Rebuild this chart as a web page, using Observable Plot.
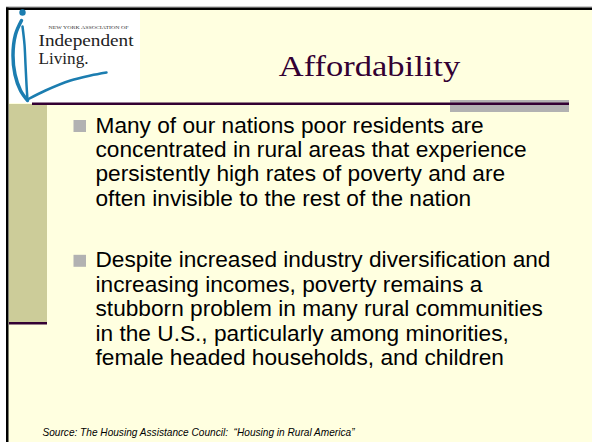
<!DOCTYPE html>
<html>
<head>
<meta charset="utf-8">
<script src="https://cdn.jsdelivr.net/npm/d3@7"></script>
<script src="https://cdn.jsdelivr.net/npm/@observablehq/plot@0.6"></script>
<style>
  html, body { margin: 0; padding: 0; background: #ffffff; }
  #chart svg { display: block; }
</style>
</head>
<body>
<div id="chart"></div>
<script>
// ---- Content ----
const titleText = "Affordability";
const bullet1 = [
  "Many of our nations poor residents are",
  "concentrated in rural areas that experience",
  "persistently high rates of poverty and are",
  "often invisible to the rest of the nation"
];
const bullet2 = [
  "Despite increased industry diversification and",
  "increasing incomes, poverty remains a",
  "stubborn problem in many rural communities",
  "in the U.S., particularly among minorities,",
  "female headed households, and children"
];
const sourceText = "Source: The Housing Assistance Council:  \u201cHousing in Rural America\u201d";
const logoSmall = "NEW YORK ASSOCIATION OF";
const logoWords = ["Independent", "Living."];

// ---- Layout (slide units = pixels) ----
const W = 592, H = 442;
const panels = [
  {x1: 8, x2: 592, y1: 10, y2: 442, fill: "#FFFFE0"},   // slide background
  {x1: 9, x2: 140, y1: 10, y2: 103, fill: "#FFFFFF"},   // logo box
  {x1: 9, x2: 47, y1: 104, y2: 322, fill: "#CCCC99"},   // olive side band
  {x1: 450, x2: 569, y1: 100, y2: 112, fill: "#B2B2B2"},// grey accent
  {x1: 32, x2: 569, y1: 102.5, y2: 105, fill: "#330033"},// title rule
  {x1: 9, x2: 47, y1: 322, y2: 324.5, fill: "#330033"}, // band bottom rule
  {x1: 6, x2: 592, y1: 6.5, y2: 7.5, fill: "#999999"},  // top border shade
  {x1: 6, x2: 592, y1: 7.5, y2: 10, fill: "#000000"},   // top border
  {x1: 6, x2: 8.5, y1: 7.5, y2: 442, fill: "#000000"}   // left border
];

const lineH = 24.4;
const rows = [
  ...bullet1.map((t, i) => ({t, y: 132 + i * lineH})),
  ...bullet2.map((t, i) => ({t, y: 266.8 + i * lineH}))
];
const bullets = [{y: 132}, {y: 266.8}];

const swooshA = [[21,20],[15,34],[12.5,55],[14.5,74],[20,90],[27,100]];
const swooshB = [[27,100],[26,84],[25,64],[24,44],[22,26]];
const swooshC = [[27,99],[45,90],[70,80],[90,75],[106,72]];
const toPts = (a, g) => a.map(([x, y]) => ({x, y, g}));

const chart = Plot.plot({
  width: W,
  height: H,
  margin: 0,
  x: {domain: [0, W], range: [0, W], axis: null},
  y: {domain: [0, H], range: [0, H], axis: null},
  style: {background: "#ffffff", overflow: "visible"},
  marks: [
    Plot.rect(panels, {x1: "x1", x2: "x2", y1: "y1", y2: "y2", fill: "fill"}),
    // logo swoosh
    Plot.line(toPts(swooshA, "a"), {x: "x", y: "y", stroke: "#1B7DB0", strokeWidth: 3.5, curve: "catmull-rom", strokeLinecap: "round"}),
    Plot.line(toPts(swooshB, "b"), {x: "x", y: "y", stroke: "#1B7DB0", strokeWidth: 2.5, curve: "catmull-rom", strokeLinecap: "round"}),
    Plot.line(toPts(swooshC, "c"), {x: "x", y: "y", stroke: "#1B7DB0", strokeWidth: 2.5, curve: "catmull-rom", strokeLinecap: "round"}),
    Plot.dot([{x: 22, y: 12}], {x: "x", y: "y", r: 3.2, fill: "#1B7DB0"}),
    Plot.text([logoSmall], {x: () => 48, y: () => 28, text: d => d, textAnchor: "start", lineAnchor: "bottom", fontSize: 4.5, fontFamily: "Liberation Serif", fill: "#333333", ariaDescription: "logosmall"}),
    Plot.text(logoWords, {x: () => 38, y: (d, i) => 45 + i * 18, text: d => d, textAnchor: "start", lineAnchor: "bottom", fontSize: 16.5, fontFamily: "Liberation Serif", fill: "#222222", ariaDescription: "logowords"}),
    // title
    Plot.text([titleText], {x: () => 369, y: () => 75, text: d => d, textAnchor: "middle", lineAnchor: "bottom", fontSize: 30, fontFamily: "Liberation Serif", fill: "#330033", ariaDescription: "title"}),
    // bullets
    Plot.rect(bullets, {x1: () => 73.5, x2: () => 86, y1: d => d.y - 12, y2: d => d.y, fill: "#B2B2B2"}),
    Plot.text(rows, {x: () => 95, y: "y", text: "t", textAnchor: "start", lineAnchor: "bottom", fontSize: 21.4, fontFamily: "Liberation Sans", fill: "#000000", ariaDescription: "body"}),
    // source
    Plot.text([sourceText], {x: () => 42, y: () => 435, text: d => d, textAnchor: "start", lineAnchor: "bottom", fontSize: 10.5, fontStyle: "italic", fontFamily: "Liberation Sans", fill: "#000000", ariaDescription: "source"})
  ]
});
document.getElementById("chart").appendChild(chart);

// horizontal stretch of the rendered slide text (the original slide image is wider than tall)
function fit(desc, factor, widths) {
  chart.querySelectorAll(`g[aria-description="${desc}"] text`).forEach((t, i) => {
    const w = widths ? widths[i] : t.getComputedTextLength() * factor;
    t.setAttribute("textLength", w);
    t.setAttribute("lengthAdjust", "spacingAndGlyphs");
  });
}
fit("body", 1.06);
fit("title", 1.15);
fit("source", null, [312]);
fit("logosmall", null, [80]);
fit("logowords", null, [95, 50]);
</script>
</body>
</html>
